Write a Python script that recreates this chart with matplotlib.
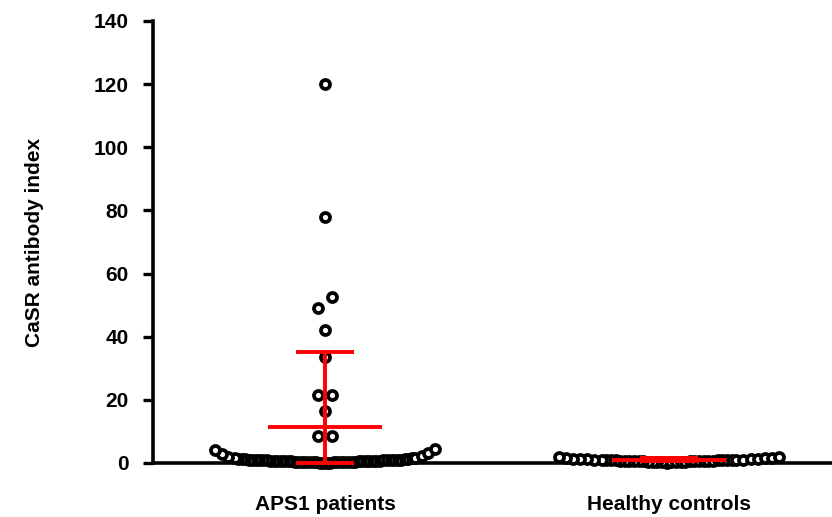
import matplotlib.pyplot as plt
import numpy as np

plt.rcParams["font.family"] = ["Liberation Sans", "DejaVu Sans"]
plt.rcParams["font.weight"] = "bold"

groups = ["APS1 patients", "Healthy controls"]
y_ticks = [0, 20, 40, 60, 80, 100, 120, 140]

# CaSR antibody index per subject
aps1 = [120, 78, 52.5, 49, 42, 33.5, 21.5, 21.5, 16.5, 8.5, 8.5,
        4.5, 4.2, 3.2, 2.9, 2.3, 2.0, 1.7, 1.6, 1.5, 1.4, 1.3, 1.3,
        1.2, 1.2, 1.1, 1.1, 1.0, 1.0, 1.0, 0.9, 0.9, 0.9, 0.8, 0.8,
        0.8, 0.8, 0.7, 0.7, 0.7, 0.7, 0.6, 0.6, 0.6, 0.6, 0.6, 0.5,
        0.5, 0.5, 0.5, 0.5, 0.4, 0.4, 0.4, 0.4, 0.4, 0.3, 0.3, 0.3,
        0.3, 0.3, 0.2, 0.2, 0.2, 0.2, 0.1, 0.1, 0.1, 0.1]
healthy = [1.9, 1.8, 1.7, 1.6, 1.5, 1.4, 1.3, 1.3, 1.2, 1.2, 1.1, 1.1,
           1.0, 1.0, 0.9, 0.9, 0.9, 0.8, 0.8, 0.8, 0.8, 0.7, 0.7, 0.7,
           0.7, 0.6, 0.6, 0.6, 0.6, 0.5, 0.5, 0.5, 0.5, 0.4, 0.4, 0.4,
           0.3, 0.3, 0.3, 0.2, 0.2, 0.1]

# mean and SD as drawn in red
means = [11.3, 1.1]
sds = [24.0, 0.4]


def swarm(values, center, dense_gap, wide_gap, wide_from):
    # rough GraphPad-like scatter: rows of close values, smallest in the middle
    vals = np.sort(np.asarray(values, float))
    rows = np.split(vals, np.where(np.diff(vals) > 3.8)[0] + 1)
    xs, ys = [], []
    for row in rows:
        if len(row) <= 3:
            gaps = np.full(len(row), 0.041)
        else:
            gaps = np.where(row >= wide_from, wide_gap, dense_gap)
        pos = {1: 0.0, -1: 0.0}
        rx = [0.0]
        side = 1
        for g in gaps[1:]:
            pos[side] += g * side
            rx.append(pos[side])
            side = -side
        rx = np.array(rx)
        rx -= (rx.max() + rx.min()) / 2
        xs.extend(center + rx)
        ys.extend(row)
    return np.array(xs), np.array(ys)


fig = plt.figure(figsize=(8.32, 5.17), dpi=100)
ax = fig.add_axes([153 / 832, 54 / 517, 679 / 832, 442 / 517])

layouts = [(0.0103, 0.019, 2.0), (0.0135, 0.0208, 1.05)]
for i, vals in enumerate([aps1, healthy]):
    x, y = swarm(vals, i, *layouts[i])
    ax.plot(x, y, "o", ms=6.5, mew=2.7, mec="black", mfc="white",
            clip_on=False, zorder=3)

for i in range(len(groups)):
    m, s = means[i], sds[i]
    lo = max(m - s, 0)
    ax.hlines(m, i - 0.167, i + 0.167, color="red", lw=2.8, zorder=5, clip_on=False)
    ax.hlines([lo, m + s], i - 0.083, i + 0.083, color="red", lw=2.8, zorder=5, clip_on=False)
    ax.vlines(i, lo, m + s, color="red", lw=2.8, zorder=5, clip_on=False)

ax.set_xlim(-0.5, 1.474)
ax.set_ylim(0, 140)
ax.set_yticks(y_ticks)
ax.set_xticks([0, 1])
ax.set_xticklabels(groups, fontsize=15, fontweight="bold")
ax.tick_params(axis="y", labelsize=15, length=7.5, width=2.4, pad=10)
ax.tick_params(axis="x", length=0, pad=23)
for lab in ax.get_yticklabels():
    lab.set_fontweight("bold")

ax.set_ylabel("CaSR antibody index", fontsize=15, fontweight="bold")
ax.yaxis.set_label_coords(-0.16, 0.5)

for side in ["top", "right"]:
    ax.spines[side].set_visible(False)
ax.spines["left"].set_linewidth(2.6)
ax.spines["bottom"].set_linewidth(2.6)

fig.savefig("out.png", dpi=100)
